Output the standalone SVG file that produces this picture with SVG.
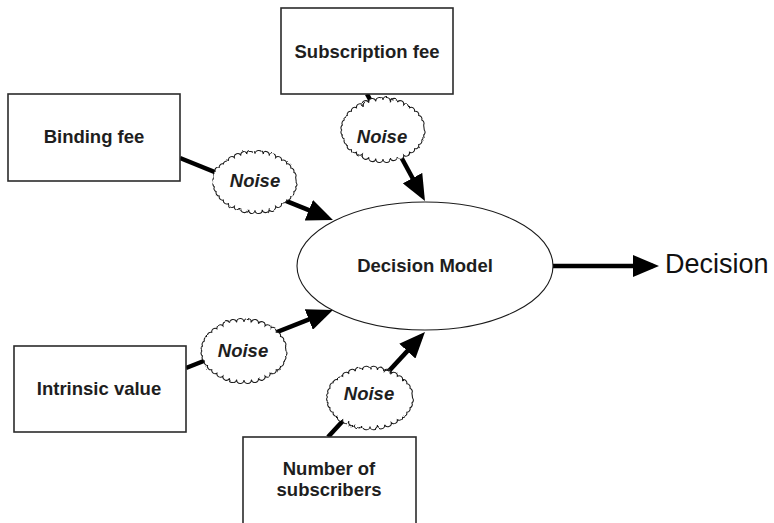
<svg xmlns="http://www.w3.org/2000/svg" xmlns:xlink="http://www.w3.org/1999/xlink" width="774" height="523" viewBox="0 0 774 523">
  <style>
    .box { fill: #ffffff; stroke: #2b2b2b; stroke-width: 1.6; }
    .model { fill: #ffffff; stroke: #1a1a1a; stroke-width: 1.1; }
    .cloud { fill: #ffffff; stroke: #1a1a1a; stroke-width: 1.1; }
    .rough { filter: url(#wobble); }
    .label { font-family: "Liberation Sans", Arial, sans-serif; font-weight: bold; font-size: 18.5px; fill: #1e1e1e; text-anchor: middle; }
    .noise { font-family: "Liberation Sans", Arial, sans-serif; font-weight: bold; font-style: italic; font-size: 18.5px; fill: #1e1e1e; text-anchor: middle; }
    .out { font-family: "Liberation Sans", Arial, sans-serif; font-size: 27px; fill: #111111; }
    .link { fill: none; stroke: #000000; stroke-width: 4.5; marker-end: url(#head); }
  </style>
  <defs>
    <marker id="head" markerUnits="userSpaceOnUse" viewBox="0 0 26 22" markerWidth="26" markerHeight="22" refX="20" refY="11" orient="auto">
      <path d="M0,0 L26,11 L0,22 Z" fill="#000000"/>
    </marker>
    <!-- gentle smooth warp so the scallops are not perfectly regular -->
    <filter id="wobble" x="-15%" y="-20%" width="130%" height="140%">
      <feTurbulence type="fractalNoise" baseFrequency="0.09" numOctaves="1" seed="7" result="noise"/>
      <feDisplacementMap in="SourceGraphic" in2="noise" scale="3" xChannelSelector="R" yChannelSelector="G"/>
    </filter>
    <!-- scalloped cloud outline, centred on the origin -->
    <path id="cloudShape" class="cloud" d="M43,0 A3.6,3.6 0 0 1 42.35,5.21 A3.6,3.6 0 0 1 40.41,10.26 A3.6,3.6 0 0 1 37.24,15 A3.6,3.6 0 0 1 32.94,19.28 A3.6,3.6 0 0 1 27.64,22.98 A3.6,3.6 0 0 1 21.5,25.98 A3.6,3.6 0 0 1 14.71,28.19 A3.6,3.6 0 0 1 7.47,29.54 A3.6,3.6 0 0 1 0,30 A3.6,3.6 0 0 1 -7.47,29.54 A3.6,3.6 0 0 1 -14.71,28.19 A3.6,3.6 0 0 1 -21.5,25.98 A3.6,3.6 0 0 1 -27.64,22.98 A3.6,3.6 0 0 1 -32.94,19.28 A3.6,3.6 0 0 1 -37.24,15 A3.6,3.6 0 0 1 -40.41,10.26 A3.6,3.6 0 0 1 -42.35,5.21 A3.6,3.6 0 0 1 -43,0 A3.6,3.6 0 0 1 -42.35,-5.21 A3.6,3.6 0 0 1 -40.41,-10.26 A3.6,3.6 0 0 1 -37.24,-15 A3.6,3.6 0 0 1 -32.94,-19.28 A3.6,3.6 0 0 1 -27.64,-22.98 A3.6,3.6 0 0 1 -21.5,-25.98 A3.6,3.6 0 0 1 -14.71,-28.19 A3.6,3.6 0 0 1 -7.47,-29.54 A3.6,3.6 0 0 1 0,-30 A3.6,3.6 0 0 1 7.47,-29.54 A3.6,3.6 0 0 1 14.71,-28.19 A3.6,3.6 0 0 1 21.5,-25.98 A3.6,3.6 0 0 1 27.64,-22.98 A3.6,3.6 0 0 1 32.94,-19.28 A3.6,3.6 0 0 1 37.24,-15 A3.6,3.6 0 0 1 40.41,-10.26 A3.6,3.6 0 0 1 42.35,-5.21 Z"/>
  </defs>

  <rect width="774" height="523" fill="#ffffff"/>

  <!-- connectors: each input runs straight to the model, passing under its noise cloud -->
  <g id="connectors">
    <path class="link" d="M180,158 L327.4,217.7"/>
    <path class="link" d="M367,94 L422.1,195.7"/>
    <path class="link" d="M186,368 L327.4,312.2"/>
    <path class="link" d="M328,437 L420.9,336.4"/>
    <path class="link" d="M553,266 L653,266"/>
  </g>

  <g id="binding-fee">
    <rect class="box" x="8" y="94" width="172" height="87"/>
    <text class="label" x="94" y="143">Binding fee</text>
  </g>

  <g id="subscription-fee">
    <rect class="box" x="281" y="8" width="172" height="86"/>
    <text class="label" x="367" y="58">Subscription fee</text>
  </g>

  <g id="intrinsic-value">
    <rect class="box" x="14" y="346" width="172" height="86"/>
    <text class="label" x="99" y="395">Intrinsic value</text>
  </g>

  <g id="number-of-subscribers">
    <rect class="box" x="243" y="437" width="173" height="92"/>
    <text class="label" x="329" y="475">Number of</text>
    <text class="label" x="329" y="496">subscribers</text>
  </g>

  <g id="noise-binding">
    <g class="rough"><use xlink:href="#cloudShape" transform="translate(255 182) scale(0.96 0.94)"/></g>
    <text class="noise" x="255" y="187">Noise</text>
  </g>

  <g id="noise-subscription">
    <g class="rough"><use xlink:href="#cloudShape" transform="translate(383 130) scale(0.96 0.97)"/></g>
    <text class="noise" x="382" y="143">Noise</text>
  </g>

  <g id="noise-intrinsic">
    <g class="rough"><use xlink:href="#cloudShape" transform="translate(244 351) scale(0.98 0.97)"/></g>
    <text class="noise" x="243" y="357">Noise</text>
  </g>

  <g id="noise-subscribers">
    <g class="rough"><use xlink:href="#cloudShape" transform="translate(370 398) scale(0.99 0.95)"/></g>
    <text class="noise" x="369" y="400">Noise</text>
  </g>

  <g id="decision-model">
    <ellipse class="model" cx="425" cy="266" rx="128" ry="64"/>
    <text class="label" x="425" y="272">Decision Model</text>
  </g>

  <g id="decision">
    <text class="out" x="665" y="273">Decision</text>
  </g>
</svg>
